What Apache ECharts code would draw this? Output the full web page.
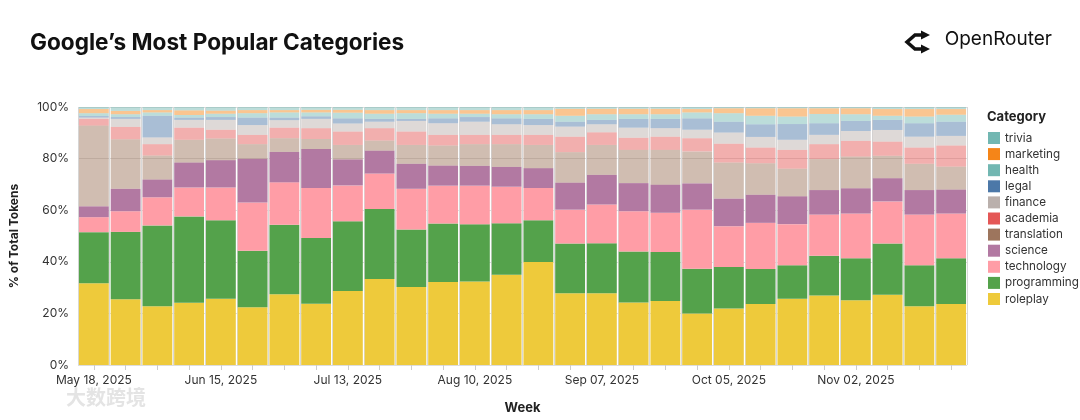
<!DOCTYPE html>
<html><head><meta charset="utf-8">
<script src="https://cdn.jsdelivr.net/npm/echarts@6/dist/echarts.min.js"></script>
<style>html,body{margin:0;padding:0;background:#fff}#c{width:1080px;height:420px}</style>
</head><body><div id="c"></div>
<script>
const weeks = ['May 18, 2025','May 25, 2025','Jun 01, 2025','Jun 08, 2025','Jun 15, 2025','Jun 22, 2025','Jun 29, 2025','Jul 06, 2025','Jul 13, 2025','Jul 20, 2025','Jul 27, 2025','Aug 03, 2025','Aug 10, 2025','Aug 17, 2025','Aug 24, 2025','Aug 31, 2025','Sep 07, 2025','Sep 14, 2025','Sep 21, 2025','Sep 28, 2025','Oct 05, 2025','Oct 12, 2025','Oct 19, 2025','Oct 26, 2025','Nov 02, 2025','Nov 09, 2025','Nov 16, 2025','Nov 23, 2025'];
const yTicks = [0, 20, 40, 60, 80, 100];

const roleplay    = [31.7,25.5,22.8,24.1,25.7,22.4,27.4,23.7,28.7,33.3,30.2,32.2,32.4,35.0,39.9,27.8,27.8,24.2,24.8,20.0,21.9,23.6,25.7,26.9,25.1,27.2,22.8,23.6];
const programming = [19.8,26.1,31.3,33.5,30.4,21.9,27.0,25.5,27.0,27.2,22.3,22.6,22.2,19.9,16.2,19.3,19.4,19.8,19.0,17.3,16.1,13.6,13.0,15.4,16.3,19.9,15.9,17.8];
const technology  = [5.8,8.0,10.9,11.2,12.7,18.7,16.4,19.4,13.9,13.7,15.8,14.7,14.9,14.2,12.5,13.1,15.0,15.6,15.2,22.9,15.8,17.9,15.9,16.0,17.3,16.3,19.6,17.3];
const science     = [4.2,8.7,6.9,9.7,10.6,16.9,11.8,15.1,10.1,8.9,9.7,7.8,7.7,7.7,7.7,10.5,11.5,10.9,10.9,10.2,10.7,10.9,10.8,9.5,9.8,9.0,9.5,9.3];
const translation = [31.3,19.2,9.3,8.8,8.4,5.7,5.3,3.9,5.6,3.9,7.3,7.8,8.4,8.8,9.0,11.8,11.6,12.9,13.5,12.4,14.0,12.2,10.7,12.0,12.3,8.7,10.2,8.9];
const academia    = [2.6,4.8,4.4,4.7,3.4,3.6,4.1,4.2,5.2,4.8,5.2,4.1,3.6,3.6,3.9,6.0,4.9,4.7,5.1,5.1,7.3,6.1,7.3,5.8,6.1,5.5,6.3,8.2];
const finance     = [0.5,3.1,2.6,3.0,3.8,3.8,2.9,3.6,3.1,2.5,4.1,4.5,5.1,4.1,3.8,3.9,3.1,3.9,3.3,3.3,4.3,4.1,3.9,3.6,3.8,4.5,4.2,3.7];
const legal       = [0.6,0.7,8.4,0.9,1.1,2.9,1.0,1.0,2.0,1.1,0.8,1.9,1.8,2.3,2.4,1.9,1.7,3.4,3.6,4.4,4.2,4.9,6.1,4.5,3.9,3.9,5.2,5.5];
const health      = [1.1,1.1,1.3,1.0,1.3,1.7,2.0,1.5,2.2,2.0,2.2,1.8,1.3,1.6,1.8,2.3,2.2,1.8,1.8,2.3,3.3,3.3,2.9,3.6,2.6,1.6,2.6,2.7];
const marketing   = [1.6,1.3,0.9,1.8,1.2,1.2,0.9,1.0,1.1,1.4,1.2,1.4,1.4,1.6,1.6,2.7,2.1,2.1,2.1,1.3,1.9,2.9,3.2,2.2,2.3,2.6,2.9,2.2];
const trivia      = [0.8,1.5,1.2,1.3,1.4,1.2,1.2,1.1,1.1,1.2,1.2,1.2,1.2,1.2,1.2,0.7,0.7,0.7,0.7,0.8,0.5,0.5,0.5,0.5,0.5,0.8,0.8,0.8];

const legendOrder = ['trivia','marketing','health','legal','finance','academia','translation','science','technology','programming','roleplay'];
const seriesData = {roleplay, programming, technology, science, translation, academia, finance, legal, health, marketing, trivia};
const colors = {
  roleplay:'#EECA3B', programming:'#54A24B', technology:'#FF9DA6', science:'#B279A2',
  translation:'#9D755D', academia:'#E45756', finance:'#BAB0AC', legal:'#4C78A8',
  health:'#72B7B2', marketing:'#F58518', trivia:'#72B7B2'
};
const opac = {roleplay:1, programming:1, technology:1, science:1, translation:0.48, academia:0.48, finance:0.48, legal:0.48, health:0.48, marketing:0.48, trivia:0.48};

const stackOrder = legendOrder.slice().reverse();
const FONT = 'Inter, "Noto Sans", sans-serif';

const series = stackOrder.map(name => ({
  name, type:'bar', stack:'total', data: seriesData[name],
  barCategoryGap:'6%', z:2,
  itemStyle:{color:colors[name], opacity:opac[name]},
  emphasis:{disabled:true}
}));

const chart = echarts.init(document.getElementById('c'), null, {renderer:'canvas'});
chart.setOption({
  animation:false,
  backgroundColor:'#fff',
  title:{text:'Google\u2019s Most Popular Categories', left:25, top:27,
    textStyle:{fontSize:22.6, fontWeight:700, color:'#111', fontFamily:FONT}},
  grid:{left:77, right:113, top:107, bottom:54},
  legend:{
    data:legendOrder, orient:'vertical', left:988, top:132, padding:0,
    itemWidth:12, itemHeight:12, itemGap:4.1, icon:'rect',
    itemStyle:{opacity:1},
    textStyle:{fontSize:11.7, color:'#333', fontFamily:FONT}, selectedMode:false
  },
  xAxis:[{
    type:'category', data:weeks, name:'Week', nameLocation:'middle', nameGap:37,
    nameTextStyle:{fontSize:13, fontWeight:700, color:'#222', fontFamily:FONT},
    axisLine:{show:false},
    axisTick:{show:true, alignWithLabel:true, interval:0, length:5, lineStyle:{color:'#cccccc'}},
    axisLabel:{interval:3, fontSize:12, color:'#333', margin:9, fontFamily:FONT},
    splitLine:{show:false}
  },{
    type:'value', min:-0.5, max:27.5, interval:1, position:'top',
    axisLine:{show:false}, axisTick:{show:false}, axisLabel:{show:false},
    splitLine:{show:true, lineStyle:{color:'#d8d8d8', width:1}}
  }],
  yAxis:{
    type:'value', min:0, max:100, interval:20,
    name:'% of Total Tokens', nameLocation:'middle', nameGap:58,
    nameTextStyle:{fontSize:12, fontWeight:700, color:'#222', fontFamily:FONT},
    axisLabel:{formatter: v => yTicks.includes(v) ? v + '%' : '', fontSize:12, color:'#333', fontFamily:FONT, margin:9},
    axisLine:{show:false}, axisTick:{show:false},
    splitLine:{lineStyle:{color:'#dddddd', width:1}}
  },
  graphic:[
    {type:'text', left:987, top:111, style:{text:'Category', fontSize:13, fontWeight:700, fill:'#222', fontFamily:FONT}},
    {type:'text', right:28, top:30, style:{text:'OpenRouter', fontSize:19, fill:'#111', fontFamily:FONT}},
    {type:'polyline', shape:{points:[[923,35],[915,35],[907,42],[915,49],[923,49]]},
      style:{stroke:'#111', lineWidth:3.5, fill:null, lineJoin:'miter'}},
    {type:'polygon', shape:{points:[[921,30.5],[930,35],[921,39.5]]}, style:{fill:'#111'}},
    {type:'polygon', shape:{points:[[921,44.5],[930,49],[921,53.5]]}, style:{fill:'#111'}},
    {type:'text', left:66, top:387, style:{text:'\u5927\u6570\u8de8\u5883', fontSize:20, fontWeight:700, fill:'#e4e4e4', fontFamily:'"Noto Sans CJK SC", sans-serif'}}
  ],
  series
});
</script></body></html>
